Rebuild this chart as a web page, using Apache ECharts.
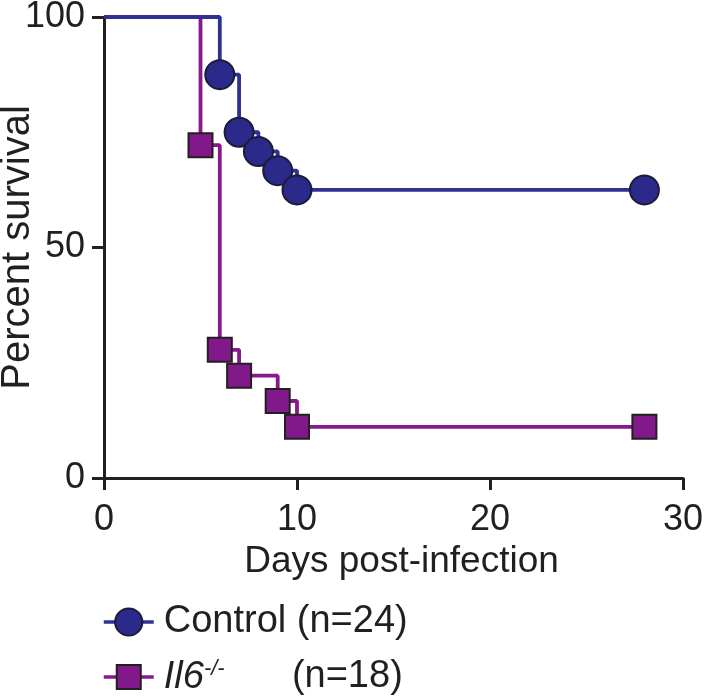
<!DOCTYPE html>
<html>
<head>
<meta charset="utf-8">
<script src="https://cdn.jsdelivr.net/npm/echarts@6/dist/echarts.min.js"></script>
<style>html,body{margin:0;padding:0;background:#fff}#c{width:705px;height:698px}</style>
</head>
<body>
<div id="c"></div>
<script>
// Kaplan-Meier survival data (day, percent survival)
const controlDays = [0, 6, 7, 8, 9, 10, 28];
const controlSurvival = [100, 87.5, 75, 70.83, 66.67, 62.5, 62.5];
const il6Days = [0, 5, 6, 7, 9, 10, 28];
const il6Survival = [100, 72.2, 27.8, 22.2, 16.7, 11.1, 11.1];
const xTicks = [0, 10, 20, 30];
const yTicks = [0, 50, 100];
const seriesNames = ['Control', 'Il6'];

const FONT = '"Liberation Sans", Arial, Helvetica, sans-serif';
const TXT = '#231f20';
const BLUE = '#2e3192';
const BLUE_FILL = '#2b2a8a';
const PURPLE = '#87198c';
const PURPLE_FILL = '#82198a';

function build(days, vals) {
  return days.map((d, i) => i === 0 ? { value: [d, vals[i]], symbol: 'none' } : { value: [d, vals[i]] });
}

const legendText = { fontFamily: FONT, fontSize: 38, color: TXT, padding: [0, 0, 0, 5],
  rich: {
    it: { fontFamily: FONT, fontSize: 38, fontStyle: 'italic', color: TXT },
    sup: { fontFamily: FONT, fontSize: 22, fontStyle: 'italic', color: TXT, verticalAlign: 'top', width: 88 },
    n: { fontFamily: FONT, fontSize: 38, color: TXT }
  } };
const legendFmt = name => name === 'Control' ? 'Control (n=24)' : '{it|Il6}{sup|-/-}{n|(n=18)}';

const chart = echarts.init(document.getElementById('c'), null, { renderer: 'canvas' });
chart.setOption({
  animation: false,
  backgroundColor: '#fff',
  grid: { left: 104, right: 22, top: 17, bottom: 220, containLabel: false, outerBoundsMode: 'none' },
  xAxis: {
    type: 'value', min: 0, max: 30, interval: 10,
    name: 'Days post-infection', nameLocation: 'middle', nameGap: 62,
    nameTextStyle: { fontFamily: FONT, fontSize: 37, color: TXT, padding: [0, 0, 0, 16] },
    axisLine: { show: true, onZero: false, lineStyle: { color: TXT, width: 3 } },
    axisTick: { show: true, length: 12, lineStyle: { color: TXT, width: 3 } },
    axisLabel: { fontFamily: FONT, fontSize: 36, color: TXT, margin: 24,
      formatter: v => xTicks.includes(v) ? String(v) : '' },
    splitLine: { show: false }
  },
  yAxis: {
    type: 'value', min: 0, max: 100, interval: 50,
    name: 'Percent survival', nameLocation: 'middle', nameGap: 66, nameMoveOverlap: false,
    nameTextStyle: { fontFamily: FONT, fontSize: 40, color: TXT },
    axisLine: { show: true, onZero: false, lineStyle: { color: TXT, width: 3 } },
    axisTick: { show: true, length: 12, lineStyle: { color: TXT, width: 3 } },
    axisLabel: { fontFamily: FONT, fontSize: 36, color: TXT, margin: 19,
      formatter: v => yTicks.includes(v) ? String(v) : '' },
    splitLine: { show: false }
  },
  legend: [
    { data: [seriesNames[0]], orient: 'vertical', left: 102, top: 603, padding: 0,
      itemWidth: 50, itemHeight: 34, textStyle: legendText, formatter: legendFmt,
      lineStyle: { width: 3.5 } },
    { data: [seriesNames[1]], orient: 'vertical', left: 102, top: 658, padding: 0,
      itemWidth: 50, itemHeight: 30, textStyle: legendText, formatter: legendFmt,
      lineStyle: { width: 3.5 } }
  ],
  series: [
    {
      name: 'Il6', type: 'line', step: 'end', data: build(il6Days, il6Survival),
      symbol: 'rect', symbolSize: 24, showAllSymbol: true,
      lineStyle: { color: PURPLE, width: 3.8 },
      itemStyle: { color: PURPLE_FILL, borderColor: '#231f20', borderWidth: 2 },
      z: 2
    },
    {
      name: 'Control', type: 'line', step: 'end', data: build(controlDays, controlSurvival),
      symbol: 'circle', symbolSize: 29, showAllSymbol: true,
      lineStyle: { color: BLUE, width: 3.8 },
      itemStyle: { color: BLUE_FILL, borderColor: '#1c1b3a', borderWidth: 2 },
      z: 3
    }
  ]
});
</script>
</body>
</html>
